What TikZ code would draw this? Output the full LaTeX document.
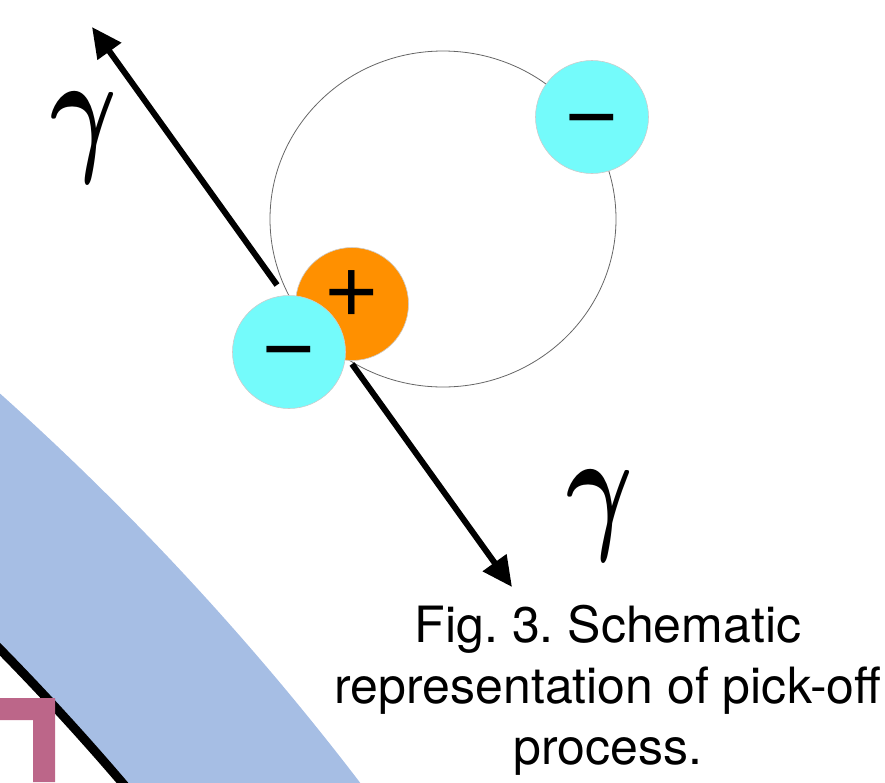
\documentclass[tikz,border=0pt]{standalone}
\usepackage{fontspec}
\setmainfont{TeX Gyre Heros}
\newfontfamily\signfont{Liberation Sans}
\usetikzlibrary{arrows.meta}
% scalable math italic, so the photon labels can be set large
\DeclareFontShape{OML}{cmm}{m}{it}{<->cmmi10}{}
\DeclareFontShape{OML}{cmm}{b}{it}{<->cmmib10}{}
\newcommand{\photonsym}{\scalebox{0.72}[1]{$\gamma$}}

\definecolor{ioncyan}{HTML}{74FBFB}
\definecolor{ionorange}{HTML}{FF9000}
\definecolor{bandblue}{HTML}{A6BEE4}
\definecolor{wallpink}{HTML}{BC6689}

\begin{document}
\begin{tikzpicture}[x=1pt,y=-1pt,
        ion/.style={circle, minimum size=113pt, inner sep=0pt, draw=black!20, line width=0.6pt,
            font=\signfont\fontsize{90}{90}\selectfont, text height=54pt, text depth=0pt},
        photon/.style={line width=6pt, -{Triangle[length=30pt,width=28pt]}},
        gammalabel/.style={font=\fontsize{142}{142}\selectfont\boldmath},
        caption/.style={anchor=base, font=\fontsize{50}{61}\selectfont\frenchspacing}]
    \useasboundingbox (0,0) rectangle (885,782);
    \coordinate (axis) at (-1873,2487);
    % material layer and wall
    \begin{scope}
        \clip (0,0) rectangle (885,782);
        \fill[bandblue, even odd rule] (axis) circle[radius=2809] (axis) circle[radius=2624];
        \draw[line width=9pt] (axis) circle[radius=2624];
        \fill[wallpink] (0,698) -- (55,698) -- (55,782) -- (33,782) -- (33,720) -- (0,720) -- cycle;
    \end{scope}
    % orbit
    \draw[black!60, line width=0.8pt] (443,219) ellipse[x radius=173, y radius=168];
    % the two photons
    \coordinate (upstart) at (277,285);
    \coordinate (uptip) at (92,27);
    \coordinate (downstart) at (352,364);
    \coordinate (downtip) at (512,587);
    \draw[photon] (upstart) -- (uptip);
    \draw[photon] (downstart) -- (downtip);
    \node[gammalabel] (gup) at (84,138) {\photonsym};
    \node[gammalabel] (gdown) at (600,516) {\photonsym};
    % positronium and pick-off electron
    \node[ion, fill=ioncyan, text height=60pt] (orbitel) at (592,117) {−};
    \node[ion, fill=ionorange, text height=36pt] (positron) at (352,304) {+};
    \node[ion, fill=ioncyan] (pickel) at (289,352) {−};
    % caption
    \node[caption] (cap1) at (608,642) {Fig. 3. Schematic};
    \node[caption] (cap2) at (608,703) {representation of pick-off};
    \node[caption] (cap3) at (608,764) {process.};
\end{tikzpicture}
\end{document}
